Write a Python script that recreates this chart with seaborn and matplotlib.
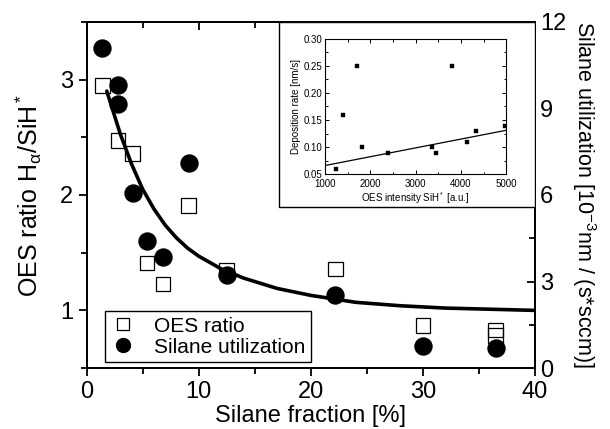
import numpy as np
import pandas as pd
import matplotlib
matplotlib.use('Agg')
import matplotlib.pyplot as plt
from matplotlib.lines import Line2D
from matplotlib.patches import Rectangle
from matplotlib.ticker import MultipleLocator, FormatStrFormatter
import seaborn as sns

# OES ratio (left axis)
oes_x = [1.4, 2.8, 4.1, 5.4, 6.8, 9.1, 12.5, 22.2, 30.0, 36.5, 36.5]
oes_y = [2.95, 2.47, 2.36, 1.41, 1.23, 1.91, 1.35, 1.36, 0.87, 0.83, 0.78]

# silane utilization (right axis)
util_x = [1.4, 2.8, 2.8, 4.1, 5.4, 6.8, 9.1, 12.5, 22.2, 30.0, 36.5]
util_y = [11.1, 9.8, 9.15, 6.08, 4.42, 3.84, 7.12, 3.24, 2.53, 0.76, 0.69]

# fitted curve
fit_x = [1.8, 3, 4, 5, 6, 7, 8, 9, 10, 12, 14, 17, 20, 24, 28, 32, 36, 40]
fit_y = [2.90, 2.53, 2.27, 2.05, 1.88, 1.74, 1.63, 1.54, 1.47, 1.36, 1.28, 1.19, 1.13, 1.07, 1.04, 1.02, 1.01, 1.00]

# inset: deposition rate vs OES intensity
ins_x = [1250, 1400, 1710, 1820, 2390, 3350, 3440, 3800, 4140, 4340, 4970]
ins_y = [0.060, 0.160, 0.250, 0.100, 0.089, 0.100, 0.089, 0.250, 0.109, 0.130, 0.139]
ins_fit_x = [1000, 5000]
ins_fit_y = [0.066, 0.131]

sns.set_style('ticks')
plt.rcParams['font.family'] = ['Liberation Sans', 'DejaVu Sans']
plt.rcParams['mathtext.fontset'] = 'custom'
plt.rcParams['mathtext.rm'] = 'Liberation Sans'
plt.rcParams['mathtext.it'] = 'Liberation Sans:italic'
plt.rcParams['text.color'] = 'black'
plt.rcParams['axes.labelcolor'] = 'black'

fig = plt.figure(figsize=(6.1, 4.29), dpi=100)
ax = fig.add_axes([0.142, 0.142, 0.735, 0.807])
ax2 = ax.twinx()

sns.lineplot(x=fit_x, y=fit_y, ax=ax, color='black', linewidth=2.6, zorder=3)
sns.scatterplot(x=oes_x, y=oes_y, ax=ax, marker='s', s=110, facecolors='none',
                edgecolor='black', linewidth=0.9, zorder=4)
sns.scatterplot(x=util_x, y=util_y, ax=ax2, marker='o', s=150, color='black',
                edgecolor='black', zorder=4)

ax.set_xlim(0, 40)
ax.set_ylim(0.5, 3.5)
ax2.set_ylim(0, 12)
ax.xaxis.set_major_locator(MultipleLocator(10))
ax.xaxis.set_minor_locator(MultipleLocator(5))
ax.yaxis.set_major_locator(MultipleLocator(1))
ax.yaxis.set_minor_locator(MultipleLocator(0.5))
ax2.yaxis.set_major_locator(MultipleLocator(3))
ax2.yaxis.set_minor_locator(MultipleLocator(1.5))

for a in (ax, ax2):
    for s in a.spines.values():
        s.set_linewidth(1.3)
        s.set_color('black')
ax.tick_params(which='both', direction='out', width=1.3, labelsize=17, colors='black')
ax.tick_params(which='major', length=6)
ax.tick_params(which='minor', length=4)
ax2.tick_params(which='both', direction='in', width=1.3, labelsize=17, colors='black')
ax2.tick_params(which='major', length=6)
ax2.tick_params(which='minor', length=4)

# top ticks point inward
top = ax.secondary_xaxis('top')
top.xaxis.set_major_locator(MultipleLocator(10))
top.xaxis.set_minor_locator(MultipleLocator(5))
top.tick_params(which='both', direction='in', width=1.3, labeltop=False, colors='black')
top.tick_params(which='major', length=6)
top.tick_params(which='minor', length=4)
top.spines['top'].set_linewidth(1.3)

ax.set_xlabel('Silane fraction [%]', fontsize=17, labelpad=1)
ax.set_ylabel(r'OES ratio H$_\mathregular{\alpha}$/SiH$^*$', fontsize=18, labelpad=12)
ax2.set_ylabel(r'Silane utilization [10$^{-3}$nm / (s*sccm)]', fontsize=15.5,
               rotation=270, labelpad=23)

handles = [Line2D([], [], marker='s', linestyle='none', markerfacecolor='none',
                  markeredgecolor='black', markersize=9, markeredgewidth=0.9),
           Line2D([], [], marker='o', linestyle='none', color='black', markersize=10)]
leg = ax2.legend(handles, ['OES ratio', 'Silane utilization'], loc='lower left',
                 bbox_to_anchor=(0.041, 0.018), borderaxespad=0, fontsize=15,
                 fancybox=False, edgecolor='black', framealpha=1,
                 handletextpad=0.9, borderpad=0.25, labelspacing=0.1,
                 handlelength=1.2)
leg.get_frame().set_linewidth(1.0)

# frame around the inset
ax2.add_patch(Rectangle((0.429, 0.465), 0.571, 0.535, transform=ax2.transAxes,
                        facecolor='white', edgecolor='black', linewidth=1.0, zorder=5))

ins = fig.add_axes([0.533, 0.594, 0.297, 0.316])
sns.scatterplot(x=ins_x, y=ins_y, ax=ins, marker='s', s=12, color='black', edgecolor='black')
sns.lineplot(x=ins_fit_x, y=ins_fit_y, ax=ins, color='black', linewidth=0.9)
ins.set_xlim(1000, 5000)
ins.set_ylim(0.05, 0.30)
ins.xaxis.set_major_locator(MultipleLocator(1000))
ins.xaxis.set_minor_locator(MultipleLocator(500))
ins.yaxis.set_major_locator(MultipleLocator(0.05))
ins.yaxis.set_minor_locator(MultipleLocator(0.025))
ins.yaxis.set_major_formatter(FormatStrFormatter('%.2f'))
for s in ins.spines.values():
    s.set_linewidth(0.8)
    s.set_color('black')
ins.tick_params(which='both', direction='in', labelsize=7, top=True, right=True,
                width=0.7, colors='black')
ins.tick_params(axis='x', pad=3.5)
ins.tick_params(axis='y', pad=2)
ins.tick_params(which='major', length=3)
ins.tick_params(which='minor', length=1.8)
ins.set_xlabel(r'OES intensity SiH$^*$ [a.u.]', fontsize=7, labelpad=1)
ins.set_ylabel('Deposition rate [nm/s]', fontsize=7, labelpad=2)

fig.savefig('out.png', dpi=100)
